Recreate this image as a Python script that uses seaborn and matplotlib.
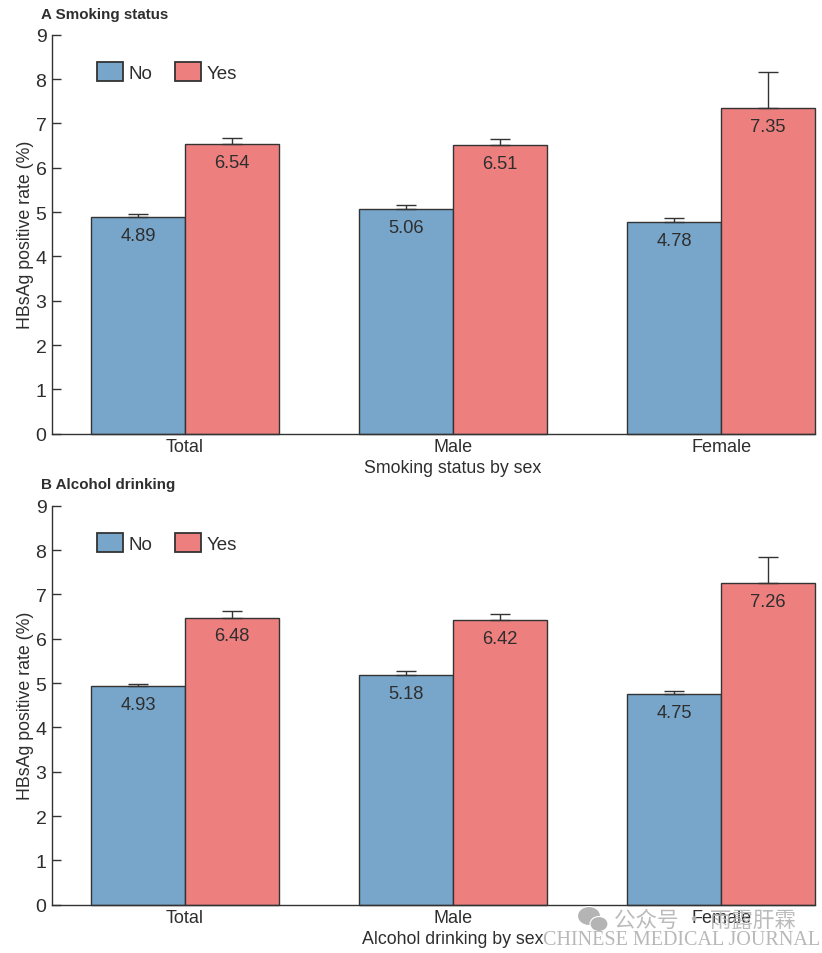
import numpy as np
import pandas as pd
import seaborn as sns
import matplotlib.pyplot as plt
from matplotlib.patches import Ellipse, Patch

groups = ["Total", "Male", "Female"]
hues = ["No", "Yes"]

smoke_no = [4.89, 5.06, 4.78]
smoke_yes = [6.54, 6.51, 7.35]
smoke_no_top = [4.96, 5.16, 4.86]
smoke_yes_top = [6.68, 6.65, 8.17]

drink_no = [4.93, 5.18, 4.75]
drink_yes = [6.48, 6.42, 7.26]
drink_no_top = [4.99, 5.28, 4.83]
drink_yes_top = [6.62, 6.57, 7.85]

blue = "#78a6cb"
red = "#ee7f7f"
edge = "#333333"
text_col = "#2e2e2e"

sns.set_theme(style="ticks")
plt.rcParams['font.family'] = ['Liberation Sans', 'DejaVu Sans']

W, H = 822, 954
fig = plt.figure(figsize=(W / 100, H / 100), dpi=100)


def panel(top, bottom, no, yes, no_top, yes_top, xlabel, title, title_y):
    ax = fig.add_axes([52 / W, 1 - (bottom + 0.8) / H, (815 - 52) / W, (bottom - top) / H])
    df = pd.DataFrame({
        "group": groups * 2,
        "status": ["No"] * 3 + ["Yes"] * 3,
        "rate": no + yes,
    })
    sns.barplot(data=df, x="group", y="rate", hue="status", order=groups, hue_order=hues,
                palette=[blue, red], width=0.7, gap=0, saturation=1, errorbar=None,
                edgecolor=edge, linewidth=1.0, legend=False, ax=ax)

    tops = no_top + yes_top
    vals = no + yes
    bars = ax.patches[:6]
    for b, v, t in zip(bars, vals, tops):
        b.set_clip_on(False)
        cx = b.get_x() + b.get_width() / 2
        ax.errorbar(cx, v, yerr=[[0], [t - v]], color=edge, lw=1.0, capsize=7, capthick=1.0)
        ax.text(cx, v - 0.22, "%.2f" % v, ha="center", va="top", fontsize=13.2, color=text_col)

    ax.set_xlim(-0.496, 2.35)
    ax.set_ylim(0, 9)
    ax.set_yticks(range(0, 10))
    ax.tick_params(axis="y", direction="in", labelsize=14, length=6.5, width=1.0, color=edge,
                   labelcolor=text_col, pad=4)
    ax.tick_params(axis="x", labelsize=13, length=0, color=edge, labelcolor=text_col, pad=3)
    ax.set_xlabel(xlabel, fontsize=12.8, color=text_col, labelpad=4)
    ax.xaxis.set_label_coords((453 - 52) / (815 - 52), -0.064)
    ax.set_ylabel("HBsAg positive rate (%)", fontsize=12.8, color=text_col)
    ax.yaxis.set_label_coords(-18 / (815 - 52), 0.5)
    for s in ["top", "right"]:
        ax.spines[s].set_visible(False)
    for s in ["left", "bottom"]:
        ax.spines[s].set_linewidth(1.0)
        ax.spines[s].set_color(edge)

    leg = ax.legend(handles=[Patch(facecolor=blue, edgecolor=edge, label="No"),
                             Patch(facecolor=red, edgecolor=edge, label="Yes")],
                    ncol=2, frameon=False, loc="upper left",
                    bbox_to_anchor=(45 / (815 - 52), 0.931),
                    handlelength=1.39, handleheight=1.15, columnspacing=1.23, handletextpad=0.27,
                    fontsize=13.5, labelcolor=text_col, borderpad=0, borderaxespad=0)
    for h in leg.get_patches():
        h.set_linewidth(1.3)

    fig.text(41 / W, 1 - title_y / H, title, fontsize=10.9, fontweight="bold",
             color=text_col, va="center")
    return ax


panel(35, 434, smoke_no, smoke_yes, smoke_no_top, smoke_yes_top,
      "Smoking status by sex", "A Smoking status", 15)
panel(506, 905, drink_no, drink_yes, drink_no_top, drink_yes_top,
      "Alcohol drinking by sex", "B Alcohol drinking", 485)

# watermark
wm = "#b4b4b4"
fig.text(820 / W, 1 - 941 / H, "CHINESE MEDICAL JOURNAL", family="Liberation Serif",
         fontsize=14.5, color=wm, ha="right", va="center", alpha=0.95)
fig.text(614 / W, 1 - 921 / H, "公众号 · 雨露肝霖", family=["Noto Sans CJK SC", "DejaVu Sans"],
         fontsize=15.5, color=wm, ha="left", va="center", alpha=0.9)
for cx, cy, w, h in [(589, 917, 23, 19), (599, 925, 18, 15)]:
    fig.add_artist(Ellipse((cx / W, 1 - cy / H), w / W, h / H, transform=fig.transFigure,
                           facecolor=wm, edgecolor="white", lw=0.8))

fig.savefig("out.png", dpi=100)
